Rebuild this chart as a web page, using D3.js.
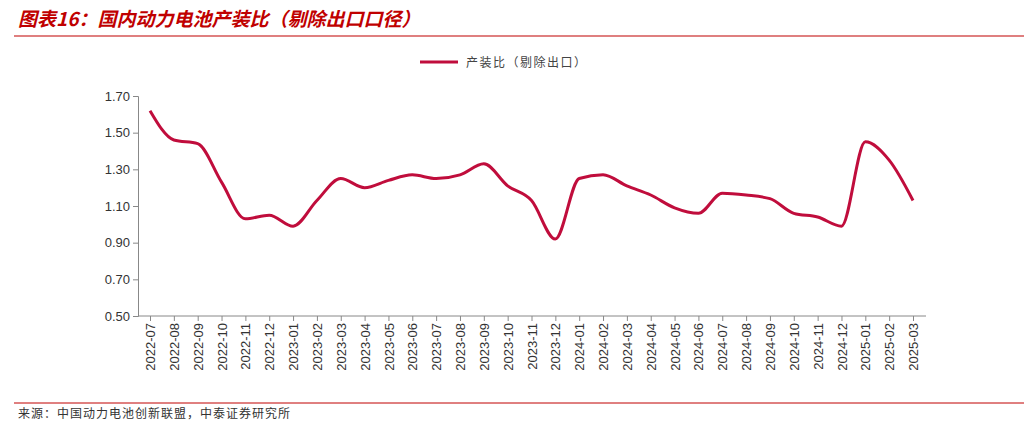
<!DOCTYPE html>
<html><head><meta charset="utf-8">
<script src="https://cdn.jsdelivr.net/npm/d3@7"></script>
<style>body{margin:0;background:#fff;font-family:"Noto Sans CJK SC","Noto Sans",sans-serif}</style>
</head><body><svg id="c" width="1031" height="426"></svg>
<script>
var months = ["2022-07","2022-08","2022-09","2022-10","2022-11","2022-12","2023-01","2023-02","2023-03","2023-04","2023-05","2023-06","2023-07","2023-08","2023-09","2023-10","2023-11","2023-12","2024-01","2024-02","2024-03","2024-04","2024-05","2024-06","2024-07","2024-08","2024-09","2024-10","2024-11","2024-12","2025-01","2025-02","2025-03"];
var ratio = [1.62,1.46,1.44,1.23,1.03,1.05,0.99,1.13,1.25,1.20,1.24,1.27,1.25,1.27,1.33,1.21,1.13,0.92,1.25,1.27,1.21,1.16,1.09,1.06,1.17,1.16,1.14,1.06,1.04,0.99,1.45,1.35,1.13];
var yTicks = [0.5,0.7,0.9,1.1,1.3,1.5,1.7];

var svg = d3.select("#c"), red = "#c00d3c";
svg.append("text").attr("x",18).attr("y",26).attr("fill","#c00000").attr("font-size",19)
  .attr("font-weight","bold").attr("font-style","italic").text("图表16：国内动力电池产装比（剔除出口口径）");
svg.append("line").attr("x1",14).attr("x2",1024).attr("y1",36).attr("y2",36).attr("stroke","#c00000").attr("stroke-width",1.2);
svg.append("line").attr("x1",14).attr("x2",1024).attr("y1",403).attr("y2",403).attr("stroke","#c00000").attr("stroke-width",1);
svg.append("text").attr("x",18).attr("y",418).attr("font-size",12).attr("letter-spacing",1).attr("fill","#333").text("来源：中国动力电池创新联盟，中泰证券研究所");

// legend
svg.append("line").attr("x1",420).attr("x2",458).attr("y1",62).attr("y2",62).attr("stroke",red).attr("stroke-width",3);
svg.append("text").attr("x",466).attr("y",67).attr("font-size",12).attr("letter-spacing",1.5).attr("fill","#444").text("产装比（剔除出口）");

var x = d3.scalePoint().domain(months).range([150,913]);
var y = d3.scaleLinear().domain([0.5,1.7]).range([316,96]);

var ya = svg.append("g").attr("transform","translate(138,0)")
  .call(d3.axisLeft(y).tickValues(yTicks).tickFormat(d3.format(".2f")).tickSize(5));
ya.selectAll("text").attr("font-size",13).attr("fill","#333").attr("font-family","Liberation Sans, Arial");
ya.selectAll("line,path").attr("stroke","#888");

var xa = svg.append("g").attr("transform","translate(0,316)")
  .call(d3.axisBottom(x).tickSize(5).tickSizeOuter(0));
xa.select(".domain").attr("d","M138,0H926").attr("stroke","#888");
xa.selectAll("line").attr("stroke","#888");
xa.selectAll("text").attr("font-size",13).attr("fill","#333").attr("font-family","Liberation Sans, Arial")
  .attr("transform","rotate(-90)").attr("text-anchor","end").attr("dy","0.35em").attr("y",0).attr("x",-7);

svg.append("path").datum(ratio).attr("fill","none").attr("stroke",red).attr("stroke-width",3)
  .attr("d", d3.line().x(function(d,i){return x(months[i]);}).y(function(d){return y(d);}).curve(d3.curveMonotoneX));
</script></body></html>
